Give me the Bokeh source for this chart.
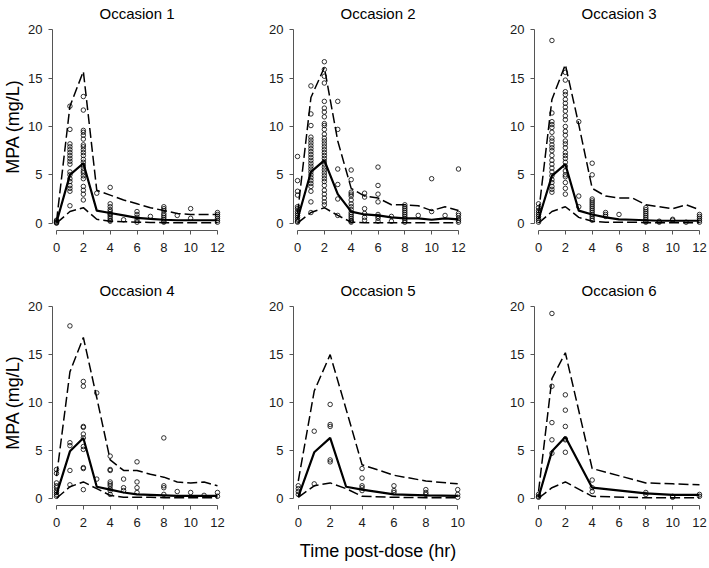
from bokeh.plotting import figure
from bokeh.layouts import row, column
from bokeh.models import FixedTicker, Range1d, Title
from bokeh.embed import file_html
from bokeh.resources import INLINE

FONT = "Liberation Sans"

# ---------------- data ----------------
titles = ["Occasion 1", "Occasion 2", "Occasion 3", "Occasion 4", "Occasion 5", "Occasion 6"]
x_max = [12, 12, 12, 12, 10, 12]
y_ticks = [0, 5, 10, 15, 20]

# prediction-interval lines (5th, 50th, 95th percentiles)
t_line_1 = [0, 1, 2, 3, 4, 5, 6, 7, 8, 9, 10, 11, 12]
p95_1 = [0.2, 12.1, 15.7, 3.4, 2.9, 2.4, 2.0, 1.6, 1.3, 1.0, 0.9, 0.9, 0.9]
p50_1 = [0.1, 5.0, 6.2, 1.3, 1.05, 0.8, 0.55, 0.45, 0.35, 0.3, 0.3, 0.3, 0.3]
p05_1 = [0.0, 1.2, 1.6, 0.4, 0.2, 0.15, 0.1, 0.08, 0.05, 0.05, 0.05, 0.05, 0.05]

t_line_2 = [0, 1, 2, 3, 4, 5, 6, 7, 8, 9, 10, 11, 12]
p95_2 = [1.0, 13.0, 16.1, 8.5, 3.6, 2.8, 2.6, 1.9, 1.9, 1.8, 1.3, 1.7, 1.3]
p50_2 = [0.4, 5.3, 6.5, 3.0, 1.2, 0.9, 0.8, 0.6, 0.5, 0.5, 0.35, 0.5, 0.4]
p05_2 = [0.0, 1.1, 1.6, 0.8, 0.1, 0.05, 0.05, 0.05, 0.05, 0.05, 0.05, 0.05, 0.05]

t_line_3 = [0, 1, 2, 3, 4, 5, 6, 7, 8, 9, 10, 11, 12]
p95_3 = [1.0, 12.8, 16.4, 10.2, 3.6, 2.8, 2.6, 2.6, 1.9, 1.7, 1.5, 1.9, 1.4]
p50_3 = [0.4, 4.9, 6.1, 1.3, 0.9, 0.6, 0.4, 0.35, 0.3, 0.25, 0.25, 0.25, 0.25]
p05_3 = [0.0, 1.2, 1.7, 0.6, 0.2, 0.1, 0.1, 0.1, 0.05, 0.05, 0.05, 0.05, 0.05]

t_line_4 = [0, 1, 2, 3, 4, 5, 6, 7, 8, 9, 10, 11, 12]
p95_4 = [2.3, 13.2, 16.8, 10.5, 4.0, 2.9, 2.9, 2.5, 2.2, 1.7, 1.6, 1.7, 1.3]
p50_4 = [0.4, 4.9, 6.3, 1.2, 0.9, 0.6, 0.4, 0.35, 0.3, 0.25, 0.25, 0.25, 0.25]
p05_4 = [0.0, 1.2, 1.7, 1.0, 0.3, 0.1, 0.1, 0.1, 0.05, 0.05, 0.05, 0.05, 0.05]

t_line_5 = [0, 1, 2, 3, 4, 6, 8, 10]
p95_5 = [1.8, 11.2, 15.0, 9.3, 3.5, 2.4, 1.8, 1.5]
p50_5 = [0.15, 4.8, 6.3, 1.2, 0.9, 0.4, 0.3, 0.25]
p05_5 = [0.1, 1.3, 1.6, 1.0, 0.2, 0.1, 0.05, 0.05]

t_line_6 = [0, 1, 2, 4, 8, 10, 12]
p95_6 = [0.7, 12.5, 15.2, 3.1, 1.6, 1.5, 1.4]
p50_6 = [0.1, 4.9, 6.4, 1.1, 0.5, 0.35, 0.35]
p05_6 = [0.0, 1.1, 1.7, 0.2, 0.05, 0.05, 0.05]

# observed concentrations: sampling times and the values seen at each time
obs_t_1 = [0, 1, 2, 3, 4, 5, 6, 7, 8, 9, 10, 12]
obs_c_1 = [
    [0.3, 0.2, 0.1, 0.05, 0.0],
    [12.1, 9.7, 8.2, 7.9, 7.6, 7.3, 7.0, 6.7, 6.4, 6.1, 5.3, 5.0, 4.6, 4.3, 3.9, 3.6, 3.3, 1.8],
    [13.1, 11.7, 9.6, 9.4, 9.1, 8.7, 8.1, 7.9, 7.6, 7.3, 7.0, 6.6, 6.3, 6.0, 5.7, 5.4, 5.2,
     4.9, 4.6, 3.8, 3.4, 3.0, 2.4],
    [3.1],
    [3.7, 2.0, 1.7, 1.4, 1.2, 1.0, 0.9, 0.7, 0.5, 0.3, 0.2],
    [0.35],
    [1.2, 0.9, 0.6, 0.3, 0.1],
    [0.7],
    [1.7, 1.5, 1.3, 1.0, 0.8, 0.6, 0.4, 0.2, 0.1],
    [0.8],
    [1.5, 0.5],
    [1.1, 0.9, 0.7, 0.5, 0.3, 0.1],
]

obs_t_2 = [0, 1, 2, 3, 4, 5, 6, 7, 8, 9, 10, 11, 12]
obs_c_2 = [
    [6.9, 4.4, 3.3, 2.9, 1.7, 1.5, 1.2, 1.0, 0.8, 0.6, 0.4, 0.2, 0.1],
    [14.2, 11.3, 10.1, 8.9, 8.6, 8.3, 8.0, 7.7, 7.4, 7.1, 6.8, 6.5, 6.2, 5.9, 5.6, 5.3, 5.0,
     4.7, 4.4, 4.1, 3.8, 3.3, 2.2, 1.1],
    [16.7, 15.9, 15.2, 14.5, 12.6, 11.9, 11.5, 11.0, 10.3, 10.1, 9.7, 9.2, 8.8, 8.5, 8.2, 7.9,
     7.6, 7.3, 7.0, 6.7, 6.4, 6.1, 5.8, 5.5, 5.2, 4.9, 4.6, 4.3, 3.9, 3.4, 3.0, 2.6, 2.2, 1.9],
    [12.6, 9.7, 5.6, 4.0, 2.5, 0.8],
    [5.5, 4.5, 3.2, 3.0, 2.8, 2.4, 2.0, 1.7, 1.4, 1.1, 0.9, 0.7, 0.5, 0.3, 0.2, 0.1],
    [3.1, 2.7, 1.5, 1.0, 0.6, 0.3],
    [5.8, 3.9, 3.0, 2.2, 0.9, 0.7, 0.5, 0.2],
    [0.7, 0.2],
    [1.9, 1.7, 1.5, 1.3, 1.1, 0.9, 0.7, 0.5, 0.3, 0.1],
    [0.8],
    [4.6, 1.2],
    [0.8],
    [5.6, 1.0, 0.8, 0.5, 0.3, 0.1],
]

obs_t_3 = [0, 1, 2, 3, 4, 5, 6, 8, 9, 10, 11, 12]
obs_c_3 = [
    [2.0, 1.6, 1.3, 1.1, 0.9, 0.7, 0.5, 0.3, 0.1],
    [18.9, 11.4, 10.5, 10.2, 9.9, 9.4, 8.8, 8.5, 8.1, 7.8, 7.5, 7.0, 6.5, 6.1, 5.7, 5.3, 4.9,
     4.5, 4.2, 3.8, 3.5, 3.2],
    [15.6, 14.8, 13.6, 13.3, 12.8, 12.4, 12.0, 11.6, 11.1, 10.7, 10.0, 9.5, 9.1, 8.5, 8.2, 7.8,
     7.3, 7.0, 6.7, 6.3, 5.9, 5.4, 5.0, 4.8, 4.2, 3.6, 3.0],
    [10.5, 2.8, 1.7],
    [6.2, 5.0, 2.5, 2.3, 2.1, 1.9, 1.7, 1.5, 1.3, 1.1, 0.9, 0.7, 0.5, 0.3],
    [1.1, 0.9, 0.7],
    [0.9],
    [1.6, 1.4, 1.2, 1.0, 0.8, 0.6, 0.4, 0.2, 0.1],
    [0.2, 0.1],
    [0.4, 0.3],
    [0.1],
    [0.9, 0.7, 0.5, 0.3, 0.1],
]

obs_t_4 = [0, 1, 2, 3, 4, 5, 6, 8, 9, 10, 11, 12]
obs_c_4 = [
    [3.0, 2.6, 1.6, 1.3, 1.1, 0.8, 0.6, 0.4, 0.2],
    [18.0, 5.8, 5.5, 2.9, 1.4],
    [12.2, 11.7, 7.5, 7.4, 6.7, 6.3, 5.4, 5.1, 3.2, 3.1, 0.9],
    [11.0, 2.0],
    [4.4, 3.0, 2.9, 1.7, 1.5, 1.3, 1.0, 0.8, 0.4],
    [2.0, 1.1, 0.8],
    [3.8, 1.7, 1.1, 0.6],
    [6.3, 1.3, 1.1, 0.4],
    [0.7],
    [0.6],
    [0.3],
    [0.6, 0.2],
]

obs_t_5 = [0, 1, 2, 4, 6, 8, 10]
obs_c_5 = [
    [1.3, 1.0, 0.7, 0.4],
    [7.0, 1.5],
    [9.8, 7.7, 7.5, 4.0, 3.8],
    [3.1, 2.1, 1.3, 1.1, 0.8],
    [1.3, 0.8, 0.6],
    [0.9, 0.6, 0.4],
    [0.9, 0.4, 0.1],
]

obs_t_6 = [0, 1, 2, 4, 8, 10, 12]
obs_c_6 = [
    [0.4, 0.2, 0.1],
    [19.3, 11.7, 7.9, 6.1, 4.7],
    [10.8, 9.2, 7.5, 6.2, 6.1, 4.8],
    [1.9, 1.1, 0.7],
    [0.6, 0.4],
    [0.2, 0.1],
    [0.4, 0.2],
]

lines = [
    (t_line_1, p05_1, p50_1, p95_1),
    (t_line_2, p05_2, p50_2, p95_2),
    (t_line_3, p05_3, p50_3, p95_3),
    (t_line_4, p05_4, p50_4, p95_4),
    (t_line_5, p05_5, p50_5, p95_5),
    (t_line_6, p05_6, p50_6, p95_6),
]
observed = [
    (obs_t_1, obs_c_1), (obs_t_2, obs_c_2), (obs_t_3, obs_c_3),
    (obs_t_4, obs_c_4), (obs_t_5, obs_c_5), (obs_t_6, obs_c_6),
]

AXIS_COL = "#555555"
TEXT_COL = "#1a1a1a"
FRAME_W = 169


def make_panel(i, b_left, b_right, b_top, frame_h, b_bottom, ylab=None, xlab=None):
    xm = x_max[i]
    p = figure(frame_width=FRAME_W, frame_height=frame_h,
               min_border_left=b_left, min_border_right=b_right,
               min_border_top=b_top, min_border_bottom=b_bottom,
               x_range=Range1d(-0.3, xm + 0.3), y_range=Range1d(-0.76, 20.76),
               output_backend="svg", toolbar_location=None,
               outline_line_color=None, background_fill_color="white",
               border_fill_color="white")
    p.grid.visible = False

    t, lo, med, hi = lines[i]
    p.line(t, hi, line_color="black", line_width=1.5, line_dash="10 4")
    p.line(t, lo, line_color="black", line_width=1.5, line_dash="10 4")
    p.line(t, med, line_color="black", line_width=2.2)

    ot, oc = observed[i]
    xs, ys = [], []
    for tt, vals in zip(ot, oc):
        for v in vals:
            xs.append(tt)
            ys.append(v)
    p.scatter(xs, ys, marker="circle", size=4.5, fill_color=None,
              line_color="black", line_width=0.8)

    for ax in (p.xaxis[0], p.yaxis[0]):
        ax.axis_line_color = AXIS_COL
        ax.axis_line_width = 1
        ax.major_tick_line_color = AXIS_COL
        ax.major_tick_in = 0
        ax.major_tick_out = 4
        ax.minor_tick_line_color = None
        ax.major_label_text_font = FONT
        ax.major_label_text_font_size = "13px"
        ax.major_label_text_color = TEXT_COL
    p.xaxis.ticker = FixedTicker(ticks=list(range(0, xm + 1, 2)))
    p.xaxis.bounds = (0, xm)
    p.xaxis.major_label_standoff = 8
    p.yaxis.ticker = FixedTicker(ticks=y_ticks)
    p.yaxis.bounds = (0, 20)
    p.yaxis.major_label_standoff = 6

    p.add_layout(Title(text=titles[i], align="center", text_font=FONT,
                       text_font_size="15px", text_font_style="normal",
                       text_color="black", standoff=2, offset=0), "above")
    if ylab:
        p.yaxis.axis_label = ylab
        p.yaxis.axis_label_text_font = FONT
        p.yaxis.axis_label_text_font_size = "18px"
        p.yaxis.axis_label_text_font_style = "normal"
        p.yaxis.axis_label_text_color = "black"
        p.yaxis.axis_label_standoff = 2
    if xlab:
        p.xaxis.axis_label = xlab
        p.xaxis.axis_label_text_font = FONT
        p.xaxis.axis_label_text_font_size = "18px"
        p.xaxis.axis_label_text_font_style = "normal"
        p.xaxis.axis_label_text_color = "black"
        p.xaxis.axis_label_standoff = 11
    return p


f1 = make_panel(0, 50, 22, 22, 208, 47, ylab="MPA (mg/L)")
f2 = make_panel(1, 50, 22, 22, 208, 47)
f3 = make_panel(2, 50, 6, 22, 208, 47)
f4 = make_panel(3, 50, 22, 22, 206, 61, ylab="MPA (mg/L)")
f5 = make_panel(4, 50, 22, 22, 206, 61, xlab="Time post-dose (hr)")
f6 = make_panel(5, 50, 6, 22, 206, 61)

layout = column(row(f1, f2, f3), row(f4, f5, f6))

open("out.html", "w").write(file_html(layout, INLINE))
